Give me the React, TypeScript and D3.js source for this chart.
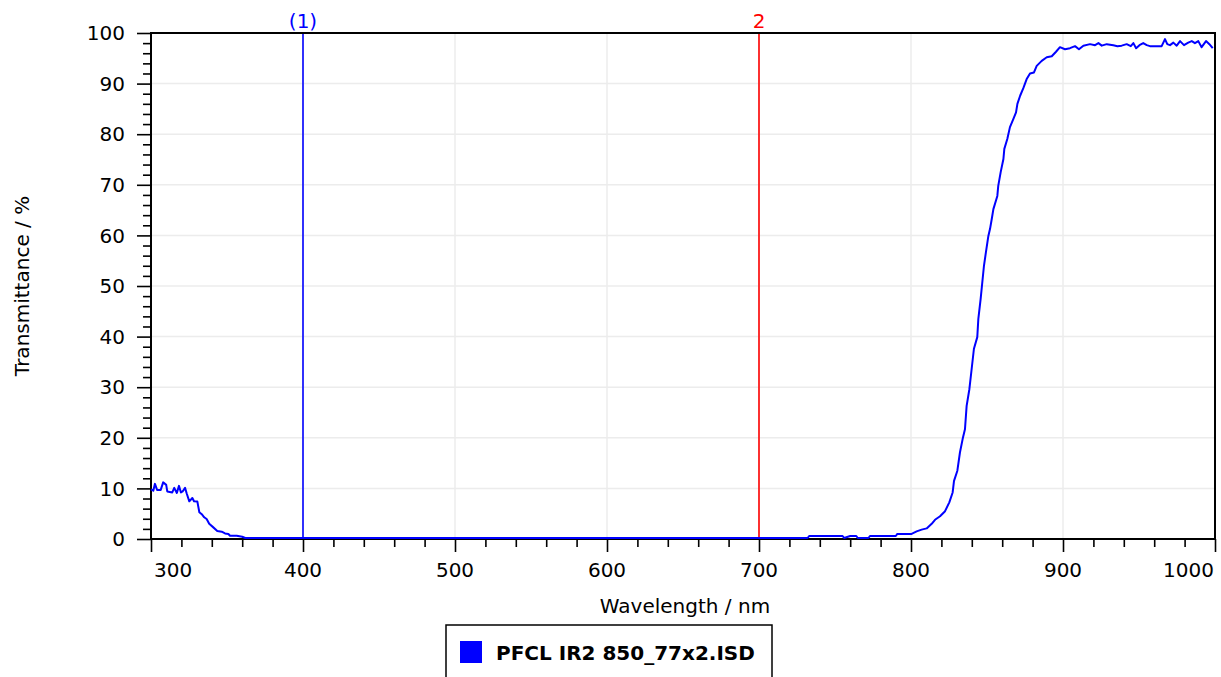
import { useEffect, useRef } from 'react';
import * as d3 from 'd3';

const wavelength = [
  300, 301.5, 302.6, 304, 306.4, 308, 310, 310.7, 314, 315.3, 317, 318.4, 319.7, 320.8, 322.4, 323.5,
  325.2, 327.2, 328.3, 330.5, 331.8, 333.4, 335, 336.6, 338.3, 341, 343.6, 346.5, 348.7, 350.9, 352,
  356.4, 360, 362, 732, 733, 755, 756, 760, 764, 765, 772, 773, 790, 791, 800.4, 803.7, 807, 810.3,
  813.6, 815.8, 819.1, 822.4, 825.2, 827.4, 828.3, 830.5, 832.2, 834, 835.5, 836.6, 838.4, 839.9,
  841.4, 843.6, 844.3, 845.8, 848, 849.3, 850.9, 852, 853.1, 854.2, 856.8, 857.4, 859, 860.8, 861.4,
  863.4, 865.1, 867.3, 869.1, 870, 871.8, 873.9, 876.1, 878.3, 880.9, 882.7, 886, 889.3, 892.6, 895.4,
  898, 901.3, 904.6, 907.9, 910.5, 913.4, 917.8, 921.1, 923.3, 925.5, 928.8, 933.1, 935.8, 938.6,
  941.9, 944.6, 946.3, 948.1, 950.3, 952.8, 955.1, 957.2, 961.6, 964.9, 967.1, 968.6, 970.4, 972.6,
  974.8, 977, 979.6, 982.4, 984.7, 986.8, 989, 991.2, 994.1, 996.3, 998.5,
];

const transmittance = [
  9.6, 9.35, 10.7, 9.5, 9.5, 11.0, 10.5, 9.2, 9.0, 9.9, 8.9, 10.3, 9.0, 9.2, 9.9, 8.8,
  7.25, 7.9, 7.25, 7.2, 5.1, 4.7, 4.1, 3.75, 2.8, 2.1, 1.4, 1.25, 0.9, 0.8, 0.45,
  0.45, 0.25, 0, 0, 0.4, 0.4, 0, 0.4, 0.4, 0, 0, 0.4, 0.4, 0.8, 0.8, 1.3, 1.65, 1.9,
  2.8, 3.6, 4.3, 5.3, 7.05, 9.0, 11.3, 13.3, 16.9, 19.6, 21.5, 26.1, 29.4, 33.4,
  37.4, 39.7, 43.3, 47.2, 53.8, 56.5, 59.7, 61.1, 63, 65, 67.6, 69.6, 72.3, 74.9, 76.9,
  78.9, 81.2, 82.8, 84.1, 85.8, 87.4, 88.9, 90.7, 91.8, 92.0, 93.3, 94.3, 95.0, 95.2, 96.1,
  97.0, 96.6, 96.8, 97.2, 96.6, 97.3, 97.6, 97.4, 97.8, 97.3, 97.6, 97.4, 97.2, 97.3,
  97.6, 97.2, 97.8, 96.8, 97.4, 97.8, 97.4, 97.2, 97.2, 97.2, 98.6, 97.6, 97.4, 97.9,
  97.3, 98.2, 97.4, 97.9, 98.2, 97.8, 98.2, 97.0, 98.2, 97.6, 96.8,
];

const xMajorTicks = [300, 400, 500, 600, 700, 800, 900, 1000];
const yMajorTicks = [0, 10, 20, 30, 40, 50, 60, 70, 80, 90, 100];

const markers = [
  { label: '(1)', at: 400, color: '#0000ff' },
  { label: '2', at: 700, color: '#ff0000' },
];

const seriesName = 'PFCL IR2 850_77x2.ISD';

const W = 1221;
const H = 677;
const FONT = '"DejaVu Sans", Verdana, sans-serif';
const FS = '20px';

export default function App() {
  const svgRef = useRef<SVGSVGElement>(null);

  useEffect(() => {
    if (!svgRef.current) return;
    const svg = d3.select(svgRef.current);
    svg.selectAll('*').remove();

    const left = 151, right = 1215, top = 33, bottom = 539;
    const x = d3.scaleLinear().domain([300, 1000]).range([left, right]);
    const y = d3.scaleLinear().domain([0, 100]).range([bottom, top]);

    svg.append('rect').attr('width', W).attr('height', H).attr('fill', 'white');

    // grid
    const grid = svg.append('g').attr('stroke', '#ececec').attr('stroke-width', 1.5);
    grid.selectAll('line.gx')
      .data(xMajorTicks.slice(1, -1))
      .enter().append('line')
      .attr('x1', d => x(d)).attr('x2', d => x(d))
      .attr('y1', top).attr('y2', bottom);
    grid.selectAll('line.gy')
      .data(yMajorTicks.slice(1, -1))
      .enter().append('line')
      .attr('x1', left).attr('x2', right)
      .attr('y1', d => y(d)).attr('y2', d => y(d));

    // markers
    markers.forEach(m => {
      svg.append('line')
        .attr('x1', x(m.at)).attr('x2', x(m.at))
        .attr('y1', top).attr('y2', bottom)
        .attr('stroke', m.color).attr('stroke-width', 1.6);
      svg.append('text')
        .attr('x', x(m.at)).attr('y', 28)
        .attr('text-anchor', 'middle')
        .attr('fill', m.color)
        .style('font-family', FONT).style('font-size', FS)
        .text(m.label);
    });

    // frame
    svg.append('rect')
      .attr('x', left).attr('y', top)
      .attr('width', right - left).attr('height', bottom - top)
      .attr('fill', 'none').attr('stroke', 'black').attr('stroke-width', 2);

    // x axis
    const xAxis = d3.axisBottom(x)
      .tickValues(d3.range(300, 1001, 20))
      .tickSize(8)
      .tickFormat(() => '');
    const gx = svg.append('g').attr('transform', `translate(0,${bottom})`).call(xAxis);
    gx.select('.domain').remove();
    gx.selectAll('.tick line').attr('stroke', 'black').attr('stroke-width', 1.6)
      .attr('y2', (d: any) => (d % 100 === 0 ? 13 : 8));

    svg.append('g').selectAll('text')
      .data(xMajorTicks)
      .enter().append('text')
      .attr('x', d => (d === 300 ? x(d) + 3 : d === 1000 ? x(d) - 1 : x(d)))
      .attr('y', 577)
      .attr('text-anchor', d => (d === 300 ? 'start' : d === 1000 ? 'end' : 'middle'))
      .style('font-family', FONT).style('font-size', FS)
      .text(d => String(d));

    // y axis
    const yAxis = d3.axisLeft(y)
      .tickValues(d3.range(0, 101, 2))
      .tickSize(8)
      .tickFormat(() => '');
    const gy = svg.append('g').attr('transform', `translate(${left},0)`).call(yAxis);
    gy.select('.domain').remove();
    gy.selectAll('.tick line').attr('stroke', 'black').attr('stroke-width', 1.6)
      .attr('x2', (d: any) => (d % 10 === 0 ? -14 : -8));

    svg.append('g').selectAll('text')
      .data(yMajorTicks)
      .enter().append('text')
      .attr('x', 125)
      .attr('y', d => y(d))
      .attr('dy', '0.36em')
      .attr('text-anchor', 'end')
      .style('font-family', FONT).style('font-size', FS)
      .text(d => String(d));

    // curve
    const pts = wavelength.map((w, i) => [w, transmittance[i]] as [number, number]);
    const line = d3.line<[number, number]>()
      .x(d => x(d[0]))
      .y(d => y(d[1]) - 1);
    svg.append('path')
      .datum(pts)
      .attr('d', line)
      .attr('fill', 'none')
      .attr('stroke', '#0000ff')
      .attr('stroke-width', 2)
      .attr('stroke-linejoin', 'round');

    // axis titles
    svg.append('text')
      .attr('x', (left + right) / 2 + 2).attr('y', 613)
      .attr('text-anchor', 'middle')
      .style('font-family', FONT).style('font-size', FS)
      .text('Wavelength / nm');
    svg.append('text')
      .attr('transform', `translate(29,${(top + bottom) / 2}) rotate(-90)`)
      .attr('text-anchor', 'middle')
      .style('font-family', FONT).style('font-size', FS)
      .text('Transmittance / %');

    // legend
    const lg = svg.append('g');
    lg.append('rect')
      .attr('x', 446).attr('y', 625).attr('width', 326).attr('height', 70)
      .attr('fill', 'white').attr('stroke', 'black').attr('stroke-width', 1.5);
    lg.append('rect')
      .attr('x', 460).attr('y', 641).attr('width', 22).attr('height', 22)
      .attr('fill', '#0000ff');
    lg.append('text')
      .attr('x', 496).attr('y', 660)
      .style('font-family', FONT).style('font-size', FS).style('font-weight', 'bold')
      .text(seriesName);
  }, []);

  return (
    <svg
      ref={svgRef}
      width={W}
      height={H}
      style={{ position: 'absolute', left: 0, top: 0, display: 'block' }}
    />
  );
}
